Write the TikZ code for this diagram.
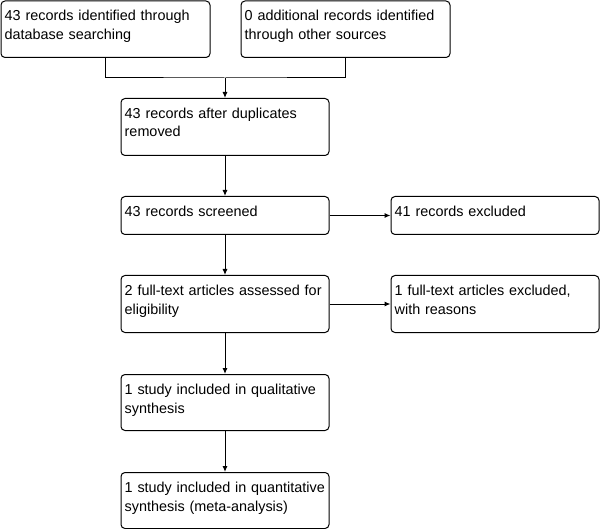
\documentclass[tikz,border=0pt]{standalone}
\usepackage{fontspec}
\setmainfont{Liberation Sans}
\usetikzlibrary{arrows.meta}
\hyphenpenalty=10000
\begin{document}
\begin{tikzpicture}[x=1pt,y=-1pt,
  box/.style={draw=black, line width=1pt, rounded corners=4pt, inner sep=0pt, anchor=north west, minimum width=208pt},
  txt/.style={anchor=base west, inner sep=0pt, align=left, text width=230pt, font=\fontsize{14.4}{18.5}\selectfont},
  conn/.style={draw=black, line width=1pt},
  arr/.style={conn, -{Latex[length=6pt,width=5pt]}}]
\useasboundingbox (0,0) rectangle (602,529);
% boxes
\node[box, minimum width=209pt, minimum height=56.5pt] (b1) at (0.5,0.5) {};
\node[box, minimum width=209pt, minimum height=56.5pt] (b2) at (240.5,0.5) {};
\node[box, minimum height=57pt] (b3) at (120.5,98) {};
\node[box, minimum height=38pt] (b4) at (120.5,196) {};
\node[box, minimum height=38pt] (b5) at (390.5,196) {};
\node[box, minimum height=57pt] (b6) at (120.5,275) {};
\node[box, minimum height=57pt] (b7) at (390.5,275) {};
\node[box, minimum height=56pt] (b8) at (120.5,374) {};
\node[box, minimum height=56pt] (b9) at (120.5,472) {};
% texts
\node[txt] (t1) at ([shift={(4,20.5)}]b1.north west) {43 records identified through\\database searching};
\node[txt] (t2) at ([shift={(4,20.5)}]b2.north west) {0 additional records identified\\through other sources};
\node[txt] (t3) at ([shift={(4,20.5)}]b3.north west) {43 records after duplicates\\removed};
\node[txt] (t4) at ([shift={(4,20.5)}]b4.north west) {43 records screened};
\node[txt] (t5) at ([shift={(4,20.5)}]b5.north west) {41 records excluded};
\node[txt] (t6) at ([shift={(4,20.5)}]b6.north west) {2 full-text articles assessed for\\eligibility};
\node[txt] (t7) at ([shift={(4,20.5)}]b7.north west) {1 full-text articles excluded,\\with reasons};
\node[txt] (t8) at ([shift={(4,20.5)}]b8.north west) {1 study included in qualitative\\synthesis};
\node[txt] (t9) at ([shift={(4,20.5)}]b9.north west) {1 study included in quantitative\\synthesis (meta-analysis)};
% connectors
\coordinate (j) at (b3.north |- 0,78);
\draw[conn] (b1.south) |- (j) -| (b2.south);
\draw[arr] (j) -- (b3.north);
\draw[arr] (b3.south) -- (b4.north);
\draw[arr] (b4.south) -- (b6.north);
\draw[arr] (b6.south) -- (b8.north);
\draw[arr] (b8.south) -- (b9.north);
\draw[arr] (b4.east) -- (b5.west);
\draw[arr] (b6.east) -- (b7.west);
\end{tikzpicture}
\end{document}
